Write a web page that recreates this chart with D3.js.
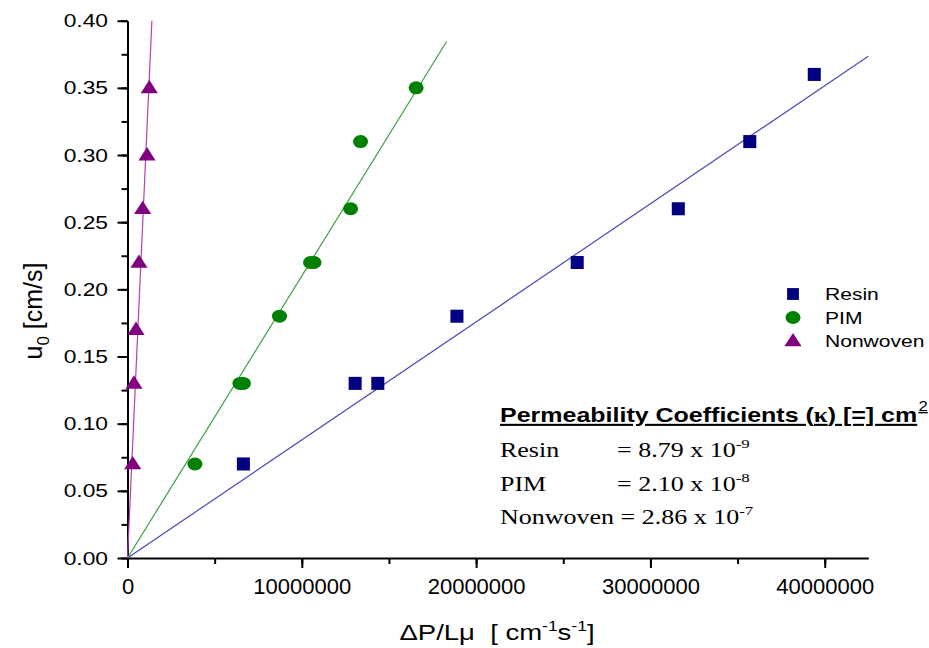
<!DOCTYPE html>
<html>
<head>
<meta charset="utf-8">
<script src="https://cdn.jsdelivr.net/npm/d3@7"></script>
<style>
  body { margin: 0; background: #fff; }
  svg { display: block; }
  .axis text { font-family: "Liberation Sans", Arial, sans-serif; fill: #000; }
  .axis path, .axis line { stroke: #000; }
</style>
</head>
<body>
<script>
// series names + colours
const seriesNames = ["Resin", "PIM", "Nonwoven"];
const markColors = ["#000080", "#008000", "#800080"];
const lineColors = ["#4a4ab8", "#3ca03c", "#b040b0"];

// data (x in cm^-1 s^-1, y in cm/s)
const resinX = [6.65e6, 13.06e6, 14.36e6, 18.9e6, 25.8e6, 31.6e6, 35.7e6, 39.4e6];
const resinY = [0.07, 0.13, 0.13, 0.18, 0.22, 0.26, 0.31, 0.36];
const pimX = [3.87e6, 6.45e6, 6.65e6, 8.72e6, 10.5e6, 10.7e6, 12.8e6, 13.37e6, 16.56e6];
const pimY = [0.07, 0.13, 0.13, 0.18, 0.22, 0.22, 0.26, 0.31, 0.35];
const nonX = [0.30e6, 0.37e6, 0.49e6, 0.66e6, 0.87e6, 1.12e6, 1.25e6];
const nonY = [0.07, 0.13, 0.17, 0.22, 0.26, 0.30, 0.35];

// fitted permeability (slope of u0 vs dP/Lmu) and where each fit line stops
const kappa = [8.79e-9, 2.10e-8, 2.86e-7];
const kappaMant = ["8.79", "2.10", "2.86"];
const kappaExp = ["-9", "-8", "-7"];
const fitEndX = [42.5e6, 18.3e6, 1.3986e6];

const xTicks = [0, 10e6, 20e6, 30e6, 40e6];
const yTicks = [0, 0.05, 0.10, 0.15, 0.20, 0.25, 0.30, 0.35, 0.40];

const W = 929, H = 648;
const svg = d3.select("body").append("svg")
  .attr("width", W).attr("height", H);

const x = d3.scaleLinear().domain([0, 42.5e6]).range([127.5, 868.3]);
const y = d3.scaleLinear().domain([0, 0.40]).range([558, 20.7]);

// the original's lettering is a bit wide, so text gets stretched sideways
function wideText(px, py, sx) {
  return svg.append("g").attr("transform", `translate(${px},${py}) scale(${sx},1)`)
    .append("text").attr("x", 0).attr("y", 0);
}

// minor ticks first (no labels)
svg.append("g").attr("class", "axis")
  .attr("transform", "translate(0,558)")
  .call(d3.axisBottom(x).tickValues(d3.range(0, 42.5e6, 5e6)).tickSize(6).tickFormat(""))
  .call(g => g.select(".domain").remove())
  .selectAll("line").attr("stroke-width", 2);
svg.append("g").attr("class", "axis")
  .attr("transform", "translate(127.5,0)")
  .call(d3.axisLeft(y).tickValues(d3.range(0, 0.401, 0.025)).tickSize(6).tickFormat(""))
  .call(g => g.select(".domain").remove())
  .selectAll("line").attr("stroke-width", 2);

// major ticks + labels
const gx = svg.append("g").attr("class", "axis")
  .attr("transform", "translate(0,558)")
  .call(d3.axisBottom(x).tickValues(xTicks).tickSize(10).tickSizeOuter(0).tickPadding(8)
    .tickFormat(d3.format("d")));
gx.select(".domain").attr("stroke-width", 2);
gx.selectAll("line").attr("stroke-width", 2);
gx.selectAll("text").attr("font-size", 22).attr("y", 20);

const gy = svg.append("g").attr("class", "axis")
  .attr("transform", "translate(127.5,0)")
  .call(d3.axisLeft(y).tickValues(yTicks).tickSize(10).tickSizeOuter(0).tickPadding(8)
    .tickFormat(d3.format(".2f")));
gy.select(".domain").attr("stroke-width", 2);
gy.selectAll("line").attr("stroke-width", 2);
gy.selectAll("text").attr("font-size", 19)
  .attr("x", -19.5 / 1.2)
  .attr("transform", "scale(1.2,1)");

// axis titles
const yt = svg.append("text")
  .attr("transform", "translate(42,311) rotate(-90)")
  .attr("text-anchor", "middle")
  .attr("font-family", "Liberation Sans, Arial, sans-serif")
  .attr("font-size", 25);
yt.append("tspan").text("u");
yt.append("tspan").attr("font-size", 17).attr("dy", 7).text("0");
yt.append("tspan").attr("dy", -7).text(" [cm/s]");

const xt = wideText(497, 640, 1.25)
  .attr("text-anchor", "middle")
  .attr("font-family", "Liberation Sans, Arial, sans-serif")
  .attr("font-size", 22);
xt.append("tspan").text("\u0394P/L\u03bc\u00a0\u00a0[\u00a0cm");
xt.append("tspan").attr("font-size", 14).attr("dy", -9).text("-1");
xt.append("tspan").attr("dy", 9).text("s");
xt.append("tspan").attr("font-size", 14).attr("dy", -9).text("-1");
xt.append("tspan").attr("dy", 9).text("]");

// fit lines u0 = kappa * dP/Lmu
const line = d3.line().x(d => x(d[0])).y(d => y(d[1]));
kappa.forEach((k, i) => {
  svg.append("path")
    .datum([[0, 0], [fitEndX[i], k * fitEndX[i]]])
    .attr("fill", "none")
    .attr("stroke", lineColors[i])
    .attr("stroke-width", 1.2)
    .attr("d", line);
});

// markers: squares, slightly flattened circles, squat triangles
const sqr = d3.symbol().type(d3.symbolSquare).size(170);
const flatTri = {
  draw(ctx, size) {
    const w = Math.sqrt(size) * 1.4, h = w * 0.78;
    ctx.moveTo(0, -h * 0.6);
    ctx.lineTo(w / 2, h * 0.4);
    ctx.lineTo(-w / 2, h * 0.4);
    ctx.closePath();
  }
};
const tri = d3.symbol().type(flatTri).size(150);

svg.append("g").selectAll("path")
  .data(d3.zip(resinX, resinY)).join("path")
  .attr("d", sqr)
  .attr("transform", d => `translate(${x(d[0])},${y(d[1])})`)
  .attr("fill", markColors[0]);

svg.append("g").selectAll("ellipse")
  .data(d3.zip(pimX, pimY)).join("ellipse")
  .attr("cx", d => x(d[0])).attr("cy", d => y(d[1]))
  .attr("rx", 7.5).attr("ry", 6.5)
  .attr("fill", markColors[1]);

svg.append("g").selectAll("path")
  .data(d3.zip(nonX, nonY)).join("path")
  .attr("d", tri)
  .attr("transform", d => `translate(${x(d[0])},${y(d[1])})`)
  .attr("fill", markColors[2]);

// legend
const legY = [294, 317.5, 341];
seriesNames.forEach((s, i) => {
  if (i === 0) svg.append("path").attr("d", d3.symbol().type(d3.symbolSquare).size(140))
    .attr("transform", `translate(793,${legY[i]})`).attr("fill", markColors[i]);
  if (i === 1) svg.append("ellipse").attr("cx", 793).attr("cy", legY[i]).attr("rx", 7.5).attr("ry", 6.5)
    .attr("fill", markColors[i]);
  if (i === 2) svg.append("path").attr("d", tri)
    .attr("transform", `translate(793,${legY[i]})`).attr("fill", markColors[i]);
  wideText(825, legY[i] + 6, 1.24)
    .attr("font-family", "Liberation Sans, Arial, sans-serif")
    .attr("font-size", 17)
    .text(s);
});

// coefficient box
const hd = wideText(500, 422, 1.19)
  .attr("font-family", "Liberation Sans, Arial, sans-serif")
  .attr("font-weight", "bold")
  .attr("font-size", 21)
  .attr("text-decoration", "underline");
hd.append("tspan").text("Permeability Coefficients (");
hd.append("tspan").attr("font-family", "Liberation Serif, serif").text("\u03ba");
hd.append("tspan").text(") [=] cm");
hd.append("tspan").attr("font-weight", "normal").attr("font-size", 14).attr("dy", -11).attr("dx", 1).text("2");

const rowY = [457, 491, 524];
seriesNames.forEach((s, i) => {
  const t = wideText(500, rowY[i], 1.3)
    .attr("font-family", "Liberation Serif, 'Times New Roman', serif")
    .attr("font-size", 20);
  t.append("tspan").attr("x", 0).text(s);
  const eq = t.append("tspan");
  if (i < 2) eq.attr("x", (617 - 500) / 1.3);
  eq.text((i === 2 ? " " : "") + "= " + kappaMant[i] + " x 10");
  t.append("tspan").attr("font-size", 13).attr("dy", -9).text(kappaExp[i]);
});
</script>
</body>
</html>
